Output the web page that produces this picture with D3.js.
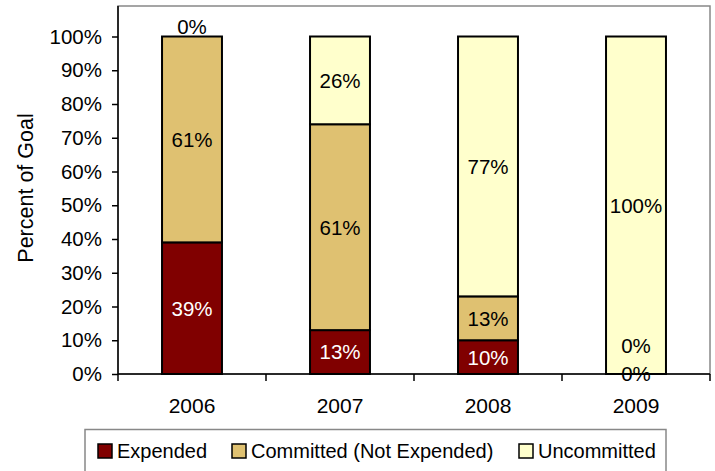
<!DOCTYPE html>
<html>
<head>
<meta charset="utf-8">
<script src="https://cdn.jsdelivr.net/npm/d3@7"></script>
<style>
  html, body { margin: 0; padding: 0; background: #fff; }
  svg { display: block; font-family: "Liberation Sans", Arial, sans-serif; }
</style>
</head>
<body>
<svg id="chart" width="715" height="471"></svg>
<script>
const years = ["2006", "2007", "2008", "2009"];
const seriesNames = ["Expended", "Committed (Not Expended)", "Uncommitted"];
const expended = [39, 13, 10, 0];
const committed = [61, 61, 13, 0];
const uncommitted = [0, 26, 77, 100];
const yTicks = [0, 10, 20, 30, 40, 50, 60, 70, 80, 90, 100];
const colors = ["#800000", "#DFC171", "#FFFFCC"];
const labelColors = ["#ffffff", "#000000", "#000000"];

(function () {
const svg = d3.select("#chart");
const pL = 118, pR = 710, pT = 6, pB = 374;
const fs = 20;

const x = d3.scaleBand().domain(years).range([pL, pR]).paddingInner(0.595).paddingOuter(0.2975);
const y = d3.scaleLinear().domain([0, 100]).range([pB, 36.5]);

// plot area border (gray)
svg.append("rect").attr("x", pL).attr("y", pT).attr("width", pR - pL).attr("height", pB - pT)
  .attr("fill", "none").attr("stroke", "#888").attr("stroke-width", 1.5);

// stacked data
const rows = years.map((yr, i) => ({ year: yr, Expended: expended[i], Committed: committed[i], Uncommitted: uncommitted[i] }));
const keys = ["Expended", "Committed", "Uncommitted"];
const stack = d3.stack().keys(keys)(rows);

// bars
stack.forEach((layer, li) => {
  svg.append("g").selectAll("rect").data(layer).join("rect")
    .attr("x", d => x(d.data.year))
    .attr("width", x.bandwidth())
    .attr("y", d => y(d[1]))
    .attr("height", d => y(d[0]) - y(d[1]))
    .attr("fill", colors[li])
    .attr("stroke", "#000")
    .attr("stroke-width", 2);
});

// y axis
const yAxis = d3.axisLeft(y).tickValues(yTicks).tickFormat(d => d + "%").tickSize(6).tickPadding(10);
const gy = svg.append("g").attr("transform", `translate(${pL},0)`).call(yAxis);
gy.select(".domain").attr("stroke", "#000").attr("stroke-width", 1.5).attr("d", `M0,${pB}V${pT}`);
gy.selectAll(".tick line").attr("stroke", "#000").attr("stroke-width", 1.5);
gy.selectAll(".tick text").attr("font-size", 20.5).attr("font-family", "Liberation Sans, Arial, sans-serif").attr("fill", "#000");

// x axis
const xAxis = d3.axisBottom(x).tickSize(0).tickPadding(24);
const gx = svg.append("g").attr("transform", `translate(0,${pB})`).call(xAxis);
gx.select(".domain").attr("stroke", "#000").attr("stroke-width", 1.5).attr("d", `M${pL},0H${pR}`);
gx.selectAll(".tick text").attr("font-size", 21).attr("font-family", "Liberation Sans, Arial, sans-serif").attr("fill", "#000");
// category boundary tick marks
const bounds = [pL].concat(years.map(yr => x(yr) - x.step() * x.paddingInner() / 2 + x.step()));
svg.append("g").selectAll("line").data(bounds).join("line")
  .attr("x1", d => d).attr("x2", d => d).attr("y1", pB).attr("y2", pB + 7)
  .attr("stroke", "#000").attr("stroke-width", 1.5);

// labels (drawn over axes)
years.forEach((yr, i) => {
  const placed = [];
  stack.forEach((layer, li) => {
    const d = layer[i];
    const v = d[1] - d[0];
    let cy = y((d[0] + d[1]) / 2);
    if (v === 0 && d[1] >= 100) cy -= 10;
    placed.forEach(p => { if (Math.abs(p - cy) < 20) cy = p - 28; });
    placed.push(cy);
    svg.append("text")
      .attr("x", x(yr) + x.bandwidth() / 2)
      .attr("y", cy)
      .attr("dy", "0.36em")
      .attr("text-anchor", "middle")
      .attr("font-size", 20.5)
      .attr("fill", v === 0 ? "#000" : labelColors[li])
      .text(v + "%");
  });
});

// y title
svg.append("text")
  .attr("transform", `translate(33,188) rotate(-90)`)
  .attr("text-anchor", "middle")
  .attr("font-size", 21.5)
  .attr("fill", "#000")
  .text("Percent of Goal");

// legend
const lg = svg.append("g");
lg.append("rect").attr("x", 85).attr("y", 429.5).attr("width", 581).attr("height", 60)
  .attr("fill", "#fff").attr("stroke", "#888").attr("stroke-width", 1.5);
const legX = [98, 232, 519];
seriesNames.forEach((name, i) => {
  lg.append("rect").attr("x", legX[i]).attr("y", 444).attr("width", 14).attr("height", 14)
    .attr("fill", colors[i]).attr("stroke", "#000").attr("stroke-width", 1.5);
  lg.append("text").attr("x", legX[i] + 19).attr("y", 458).attr("font-size", fs).attr("fill", "#000").text(name);
});
})();
</script>
</body>
</html>
